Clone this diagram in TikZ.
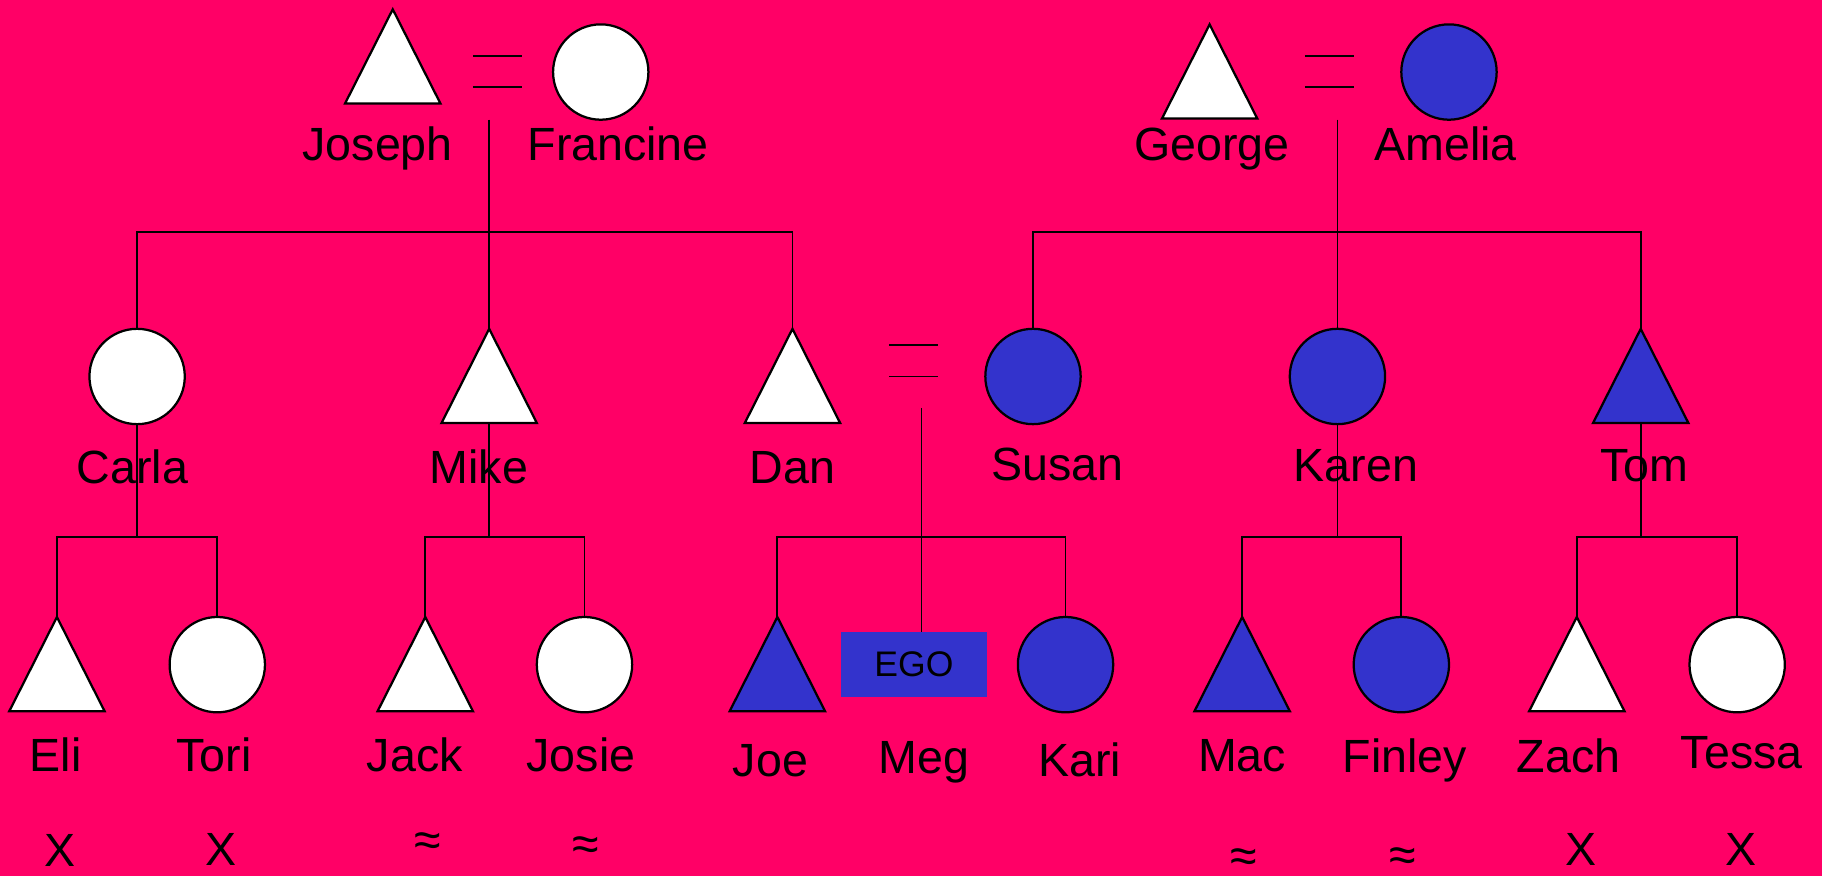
\documentclass[tikz,border=0pt]{standalone}
\usepackage{fontspec}
\setmainfont{Liberation Sans}
\usetikzlibrary{shapes.geometric}
\definecolor{pinkbg}{HTML}{FF0066}
\definecolor{blueC}{HTML}{3333CC}
\begin{document}
\begin{tikzpicture}[x=0.01cm,y=-0.01cm,
  conn/.style={line width=0.45pt, draw=black},
  circ/.style={circle, draw=black, line width=0.55pt, minimum size=0.82cm, inner sep=0pt, outer sep=0pt, fill=#1},
  circ/.default=white,
  tri/.style={isosceles triangle, isosceles triangle stretches, shape border rotate=90, draw=black, line width=0.55pt, minimum width=0.82cm, minimum height=0.81cm, inner sep=0pt, outer sep=0pt, anchor=apex, fill=#1},
  tri/.default=white,
  lbl/.style={anchor=base, inner sep=0pt, font=\fontsize{11.4}{13}\selectfont},
  sym/.style={anchor=center, inner sep=0pt, font=\fontsize{11.8}{13}\selectfont},
  egobox/.style={rectangle, fill=blueC, minimum width=1.25cm, minimum height=0.56cm, inner sep=0pt, outer sep=0pt, font=\fontsize{8.7}{10}\selectfont},
  ]
\useasboundingbox (0,0) rectangle (1568,754);
\fill[pinkbg] (0,0) rectangle (1568,754);

% generation 1
\node[tri] (joseph) at (338,8) {};
\node[circ] (francine) at (517,62) {};
\node[tri] (george) at (1041,21) {};
\node[circ=blueC] (amelia) at (1247,62) {};

% generation 2
\node[circ] (carla) at (118,324) {};
\node[tri] (mike) at (421,283) {};
\node[tri] (dan) at (682,283) {};
\node[circ=blueC] (susan) at (889,324) {};
\node[circ=blueC] (karen) at (1151,324) {};
\node[tri=blueC] (tom) at (1412,283) {};

% generation 3
\node[tri] (eli) at (49,531) {};
\node[circ] (tori) at (187,572) {};
\node[tri] (jack) at (366,531) {};
\node[circ] (josie) at (503,572) {};
\node[tri=blueC] (joe) at (669,531) {};
\node[egobox] (ego) at (786.5,572) {EGO};
\node[circ=blueC] (kari) at (917,572) {};
\node[tri=blueC] (mac) at (1069,531) {};
\node[circ=blueC] (finley) at (1206,572) {};
\node[tri] (zach) at (1357,531) {};
\node[circ] (tessa) at (1495,572) {};

% marriage signs
\draw[conn] (407,48) -- (449,48);
\draw[conn] (407,75) -- (449,75);
\draw[conn] (1123,48) -- (1165,48);
\draw[conn] (1123,75) -- (1165,75);
\draw[conn] (765,297) -- (807,297);
\draw[conn] (765,324) -- (807,324);

% connectors
\coordinate (jfm) at (421,103);
\coordinate (jfs) at (421,200);
\draw[conn] (jfm) -- (mike.apex);
\draw[conn] (carla.north) |- (jfs) -| (dan.apex);

\coordinate (gam) at (1151,103);
\coordinate (gas) at (1151,200);
\draw[conn] (gam) -- (karen.north);
\draw[conn] (susan.north) |- (gas) -| (tom.apex);

\coordinate (dsm) at (793,351);
\coordinate (dss) at (793,462);
\draw[conn] (dsm) -- (dsm |- ego.north);
\draw[conn] (joe.apex) |- (dss) -| (kari.north);

\coordinate (cs) at (118,462);
\draw[conn] (carla.south) -- (cs);
\draw[conn] (eli.apex) |- (cs) -| (tori.north);

\coordinate (ms) at (421,462);
\draw[conn] (mike.south) -- (ms);
\draw[conn] (jack.apex) |- (ms) -| (josie.north);

\coordinate (ks) at (1151,462);
\draw[conn] (karen.south) -- (ks);
\draw[conn] (mac.apex) |- (ks) -| (finley.north);

\coordinate (ts) at (1412,462);
\draw[conn] (tom.south) -- (ts);
\draw[conn] (zach.apex) |- (ts) -| (tessa.north);

% labels
\node[lbl] (lJoseph) at (325,138) {Joseph};
\node[lbl] (lFrancine) at (532,138) {Francine};
\node[lbl] (lGeorge) at (1043,138) {George};
\node[lbl] (lAmelia) at (1244,138) {Amelia};

\node[lbl] (lCarla) at (114,416) {Carla};
\node[lbl] (lMike) at (412,416) {Mike};
\node[lbl] (lDan) at (682,416.5) {Dan};
\node[lbl] (lSusan) at (910,413.5) {Susan};
\node[lbl] (lKaren) at (1167,414) {Karen};
\node[lbl] (lTom) at (1415,414) {Tom};

\node[lbl] (lEli) at (48,664) {Eli};
\node[lbl] (lTori) at (184,664) {Tori};
\node[lbl] (lJack) at (357,664) {Jack};
\node[lbl] (lJosie) at (500,664) {Josie};
\node[lbl] (lJoe) at (663,668) {Joe};
\node[lbl] (lMeg) at (795,665.5) {Meg};
\node[lbl] (lKari) at (929,668) {Kari};
\node[lbl] (lMac) at (1069,664) {Mac};
\node[lbl] (lFinley) at (1209,665) {Finley};
\node[lbl] (lZach) at (1350,664.5) {Zach};
\node[lbl] (lTessa) at (1499,661.5) {Tessa};

% status marks
\node[lbl] (xEli) at (52,746) {X};
\node[lbl] (xTori) at (190.5,744.5) {X};
\node[sym] (aJack) at (368,726.5) {≈};
\node[sym] (aJosie) at (504,730) {≈};
\node[sym] (aMac) at (1070,741) {≈};
\node[sym] (aFinley) at (1207,739.5) {≈};
\node[lbl] (xZach) at (1361,744.5) {X};
\node[lbl] (xTessa) at (1498,744.5) {X};
\end{tikzpicture}
\end{document}
